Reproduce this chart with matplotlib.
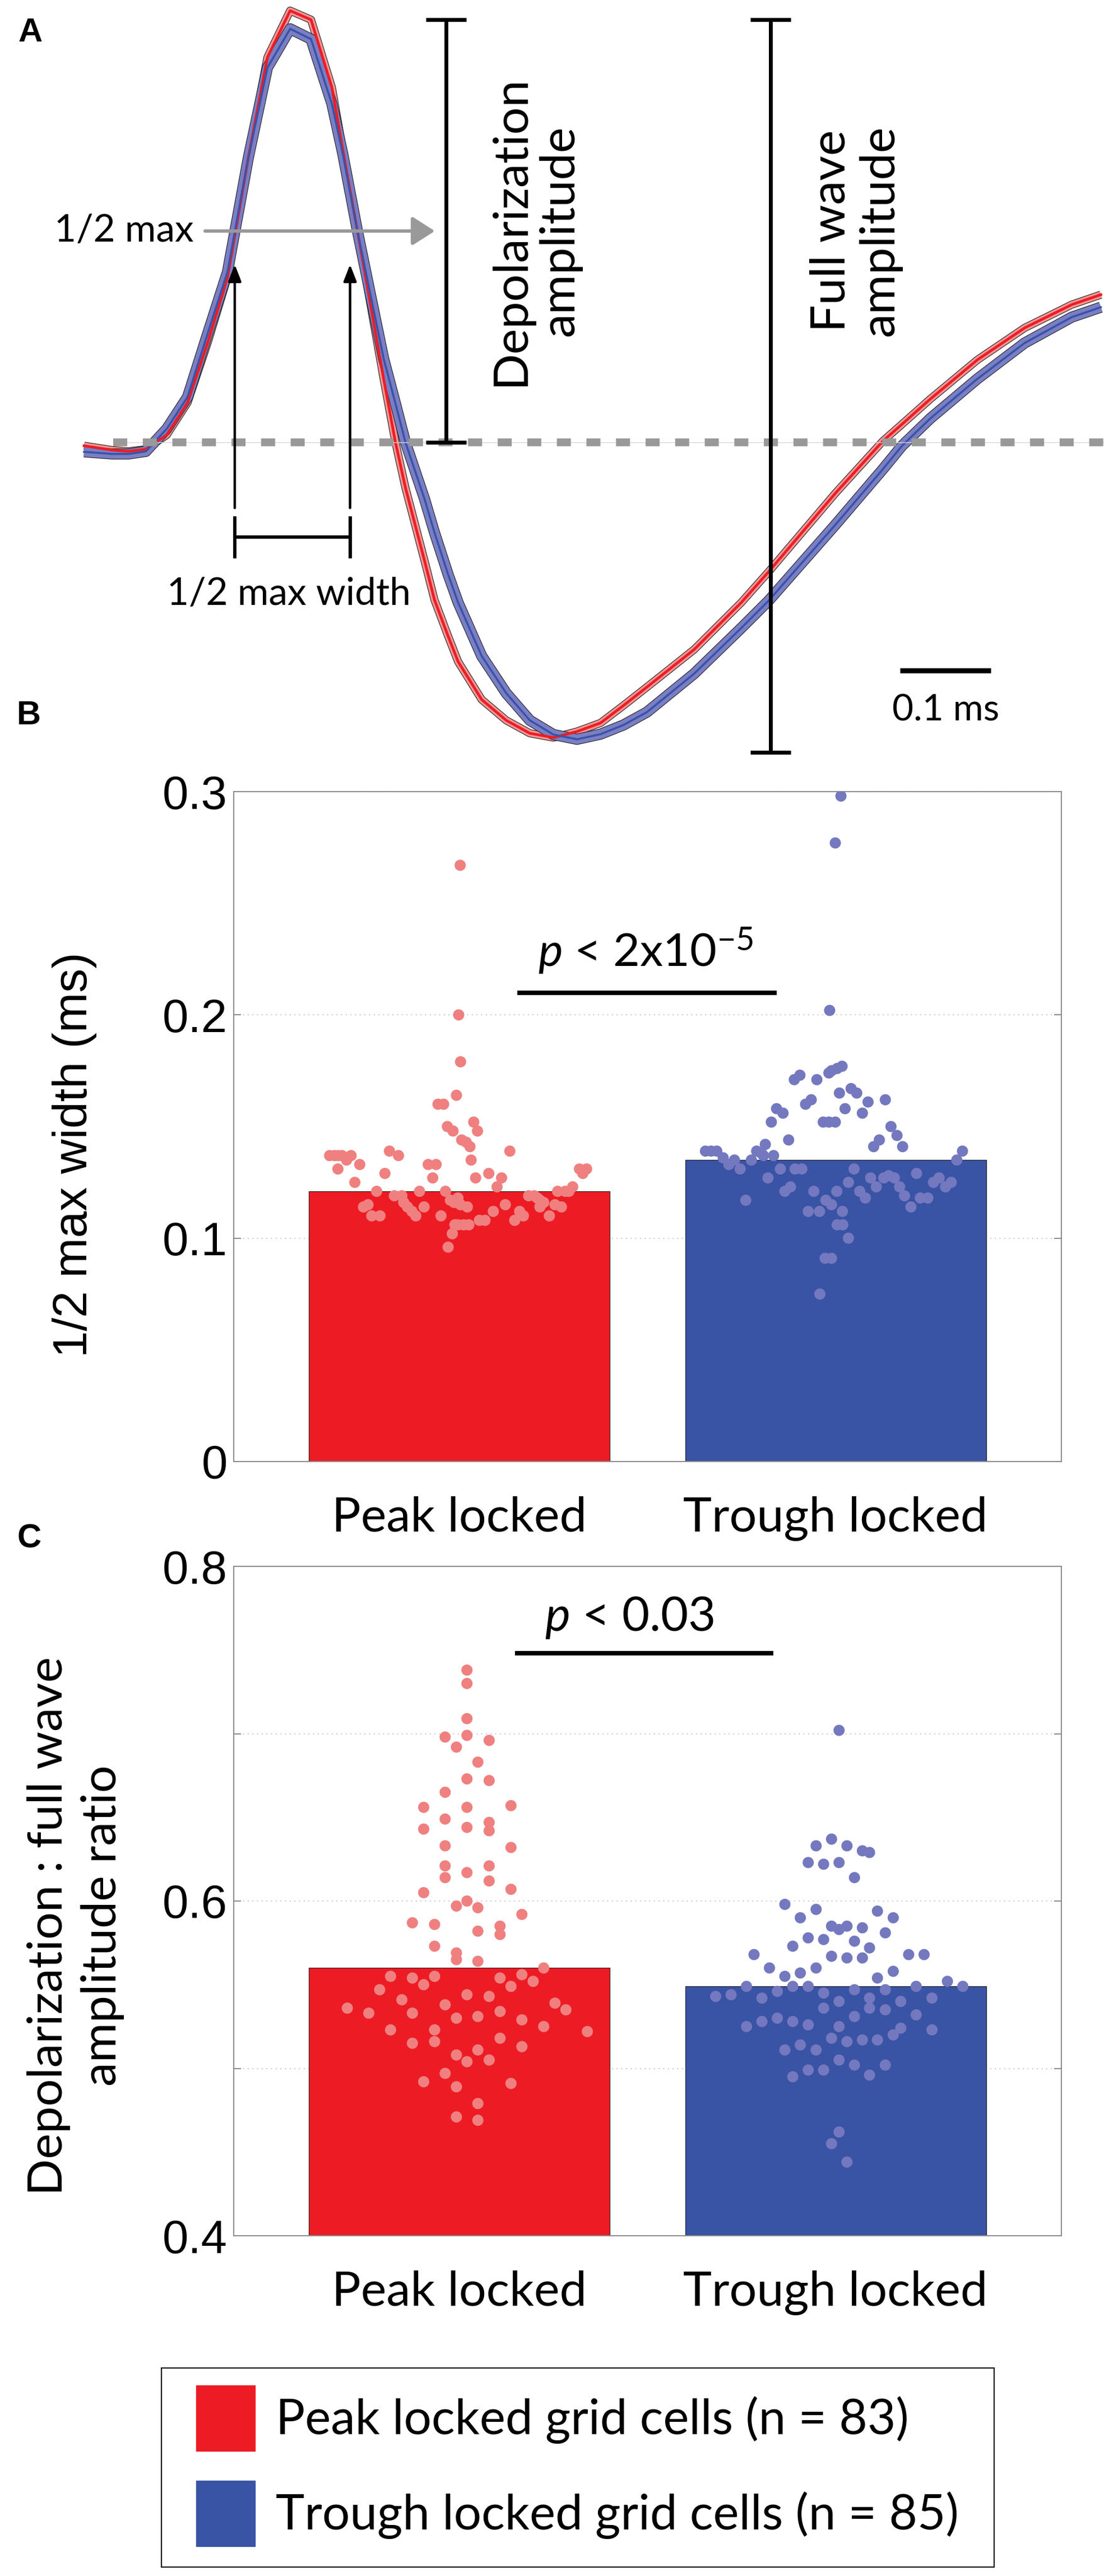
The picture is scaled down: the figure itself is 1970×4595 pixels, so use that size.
import numpy as np
import matplotlib
matplotlib.use('Agg')
import matplotlib.pyplot as plt
import matplotlib.patheffects as pe
from matplotlib.patches import Rectangle

plt.rcParams['mathtext.fontset'] = 'custom'
plt.rcParams['mathtext.rm'] = 'Lato'
plt.rcParams['mathtext.it'] = 'Lato:italic'

# ---------------- data ----------------
# A: mean waveforms (time in ms, amplitude normalised to the peak)
wave_t = [0.000, 0.031, 0.049, 0.068, 0.091, 0.114, 0.136, 0.158, 0.181, 0.202,
          0.227, 0.250, 0.273, 0.285, 0.301, 0.315, 0.330, 0.343, 0.354, 0.375,
          0.386, 0.401, 0.412, 0.438, 0.465, 0.491, 0.517, 0.543, 0.569, 0.594,
          0.620, 0.672, 0.724, 0.754, 0.828, 0.880, 0.901, 0.932, 0.984, 1.036,
          1.088, 1.120]
peak_wave = [-0.008, -0.018, -0.021, -0.016, 0.017, 0.092, 0.230, 0.382, 0.660, 0.892,
             1.000, 0.979, 0.822, 0.677, 0.491, 0.326, 0.147, 0.000, -0.105, -0.274,
             -0.365, -0.449, -0.508, -0.596, -0.644, -0.674, -0.684, -0.670, -0.650, -0.610,
             -0.567, -0.480, -0.371, -0.300, -0.117, 0.003, 0.042, 0.100, 0.191, 0.265,
             0.319, 0.342]
trough_wave = [-0.022, -0.027, -0.027, -0.021, 0.031, 0.105, 0.251, 0.395, 0.660, 0.868,
               0.958, 0.934, 0.784, 0.668, 0.491, 0.347, 0.194, 0.090, 0.000, -0.131,
               -0.209, -0.306, -0.371, -0.495, -0.581, -0.644, -0.677, -0.688, -0.676, -0.655,
               -0.625, -0.536, -0.430, -0.367, -0.190, -0.062, -0.008, 0.055, 0.147, 0.230,
               0.290, 0.313]

groups = ['Peak locked', 'Trough locked']
legend_names = ['Peak locked grid cells', 'Trough locked grid cells']

# B: 1/2 max width (ms)
width_means = [0.121, 0.135]
pk_width_x = [0.002, -0.002, 0.003, -0.008, -0.057, -0.042, -0.032, -0.017, 0.038, 0.048,
              0.006, 0.018, 0.028, 0.031, 0.134, -0.345, -0.332, -0.322, -0.312, -0.300,
              -0.288, -0.323, -0.265, -0.278, -0.186, -0.162, -0.198, -0.083, -0.062, -0.071,
              0.043, 0.078, 0.112, 0.100, 0.319, 0.338, 0.328, 0.301, 0.291, 0.281,
              0.261, -0.220, -0.106, -0.037, -0.173, -0.153, -0.255, -0.243, -0.233, -0.211,
              -0.148, -0.138, -0.126, -0.116, -0.094, -0.049, -0.024, -0.014, -0.004, 0.003,
              0.021, -0.012, -0.004, 0.011, 0.025, -0.019, -0.030, 0.053, 0.068, 0.090,
              0.122, 0.147, 0.160, 0.170, 0.184, 0.199, 0.207, 0.214, 0.224, 0.214,
              0.239, 0.254, 0.271]
pk_width = [0.267, 0.200, 0.179, 0.164, 0.160, 0.160, 0.150, 0.148, 0.152, 0.148,
            0.144, 0.143, 0.141, 0.135, 0.139, 0.137, 0.137, 0.137, 0.137, 0.135,
            0.137, 0.131, 0.133, 0.125, 0.139, 0.137, 0.129, 0.133, 0.133, 0.127,
            0.127, 0.129, 0.127, 0.123, 0.131, 0.131, 0.129, 0.123, 0.121, 0.121,
            0.121, 0.121, 0.121, 0.121, 0.119, 0.119, 0.114, 0.115, 0.110, 0.110,
            0.116, 0.114, 0.112, 0.110, 0.114, 0.110, 0.117, 0.116, 0.118, 0.115,
            0.114, 0.106, 0.106, 0.106, 0.106, 0.102, 0.096, 0.108, 0.108, 0.112,
            0.115, 0.108, 0.112, 0.110, 0.119, 0.119, 0.118, 0.117, 0.116, 0.114,
            0.110, 0.115, 0.114]
tr_width_x = [0.017, 0.004, -0.011, -0.018, -0.095, -0.110, -0.050, 0.041, 0.056, 0.010,
              0.132, -0.065, -0.080, 0.086, 0.071, 0.025, -0.157, -0.140, -0.171, -0.033,
              -0.018, -0.001, 0.147, 0.163, 0.178, -0.125, 0.116, 0.101, 0.337, 0.322,
              -0.346, -0.331, -0.316, -0.299, -0.284, -0.269, -0.254, -0.224, -0.210, -0.197,
              -0.187, -0.192, -0.165, -0.147, -0.108, -0.090, 0.049, -0.180, -0.120, -0.135,
              -0.058, 0.003, 0.034, 0.093, 0.108, 0.128, 0.141, 0.156, 0.170, 0.183,
              0.200, 0.064, 0.079, 0.215, 0.225, 0.245, 0.260, 0.275, 0.292, 0.307,
              -0.239, -0.073, -0.043, -0.026, -0.011, 0.018, 0.004, 0.019, 0.034, -0.028,
              -0.011, -0.042, 0.014, -0.001, -0.016]
tr_width = [0.177, 0.176, 0.175, 0.174, 0.173, 0.171, 0.171, 0.167, 0.165, 0.165,
            0.162, 0.162, 0.160, 0.161, 0.156, 0.158, 0.158, 0.156, 0.152, 0.152,
            0.152, 0.152, 0.150, 0.146, 0.141, 0.144, 0.144, 0.141, 0.139, 0.135,
            0.139, 0.139, 0.139, 0.136, 0.133, 0.135, 0.131, 0.135, 0.139, 0.138,
            0.142, 0.137, 0.137, 0.131, 0.131, 0.131, 0.131, 0.127, 0.123, 0.121,
            0.121, 0.121, 0.125, 0.127, 0.123, 0.127, 0.128, 0.127, 0.123, 0.119,
            0.114, 0.121, 0.118, 0.129, 0.118, 0.118, 0.125, 0.127, 0.123, 0.125,
            0.117, 0.112, 0.112, 0.117, 0.115, 0.112, 0.106, 0.106, 0.100, 0.091,
            0.091, 0.075, 0.298, 0.277, 0.202]

# C: depolarization : full wave amplitude ratio
ratio_means = [0.560, 0.549]
pk_ratio_x = [0.020, 0.020, 0.020, -0.038, 0.020, 0.079, -0.008, 0.049, 0.020, 0.079,
              -0.038, -0.095, 0.020, 0.137, -0.038, -0.095, 0.020, 0.079, 0.079, -0.038,
              0.137, -0.038, -0.038, 0.020, 0.079, 0.079, -0.095, 0.137, 0.020, -0.008,
              0.049, 0.166, -0.125, -0.066, 0.049, 0.108, 0.108, -0.066, -0.008, -0.008,
              0.049, 0.224, -0.183, -0.125, -0.095, -0.066, 0.108, 0.137, 0.166, 0.196,
              -0.212, -0.153, 0.020, 0.079, -0.298, -0.241, -0.125, -0.038, -0.008, 0.049,
              0.108, 0.166, 0.254, 0.283, -0.183, -0.066, 0.224, 0.340, -0.125, -0.066,
              0.108, 0.166, 0.049, -0.008, 0.020, 0.079, -0.038, -0.095, -0.008, 0.137,
              0.049, -0.008, 0.049]
pk_ratio = [0.738, 0.730, 0.709, 0.698, 0.699, 0.696, 0.692, 0.683, 0.673, 0.672,
            0.665, 0.656, 0.656, 0.657, 0.649, 0.643, 0.644, 0.647, 0.642, 0.633,
            0.632, 0.621, 0.614, 0.617, 0.621, 0.612, 0.605, 0.607, 0.600, 0.597,
            0.596, 0.592, 0.587, 0.586, 0.582, 0.585, 0.580, 0.573, 0.569, 0.565,
            0.564, 0.560, 0.555, 0.554, 0.550, 0.555, 0.554, 0.549, 0.556, 0.552,
            0.547, 0.541, 0.544, 0.543, 0.536, 0.533, 0.533, 0.538, 0.530, 0.531,
            0.534, 0.529, 0.539, 0.535, 0.523, 0.523, 0.525, 0.522, 0.515, 0.516,
            0.518, 0.513, 0.511, 0.508, 0.504, 0.505, 0.497, 0.492, 0.489, 0.491,
            0.479, 0.471, 0.469]
tr_ratio_x = [0.009, -0.011, -0.052, 0.030, 0.071, 0.090, -0.073, -0.032, 0.009, 0.050,
              -0.135, -0.052, -0.094, 0.111, 0.153, -0.011, 0.009, 0.030, 0.071, 0.132,
              -0.073, -0.032, 0.050, -0.114, 0.090, -0.217, -0.011, 0.030, 0.071, 0.194,
              0.235, -0.176, -0.052, -0.094, -0.135, 0.153, 0.111, 0.297, 0.338, -0.237,
              -0.114, -0.073, 0.050, 0.132, 0.214, -0.319, -0.278, -0.196, -0.155, -0.032,
              0.009, 0.090, 0.090, 0.173, 0.256, -0.032, 0.132, -0.237, -0.196, -0.155,
              -0.114, -0.073, 0.050, 0.214, 0.009, 0.173, 0.153, 0.256, -0.011, 0.030,
              0.071, 0.111, -0.094, -0.135, -0.052, 0.009, 0.050, 0.132, -0.073, -0.032,
              -0.114, 0.090, 0.009, -0.011, 0.030]
tr_ratio = [0.702, 0.637, 0.633, 0.633, 0.630, 0.629, 0.623, 0.622, 0.623, 0.614,
            0.598, 0.595, 0.590, 0.594, 0.590, 0.585, 0.583, 0.585, 0.584, 0.581,
            0.578, 0.577, 0.576, 0.573, 0.572, 0.568, 0.567, 0.566, 0.566, 0.568,
            0.568, 0.560, 0.560, 0.557, 0.555, 0.558, 0.554, 0.552, 0.549, 0.549,
            0.549, 0.549, 0.547, 0.547, 0.549, 0.543, 0.544, 0.542, 0.546, 0.545,
            0.540, 0.542, 0.536, 0.540, 0.542, 0.536, 0.535, 0.525, 0.528, 0.530,
            0.528, 0.526, 0.531, 0.532, 0.525, 0.524, 0.520, 0.523, 0.518, 0.516,
            0.517, 0.517, 0.514, 0.511, 0.511, 0.505, 0.502, 0.502, 0.499, 0.499,
            0.495, 0.496, 0.462, 0.455, 0.444]

# ---------------- style ----------------
RED, BLUE = '#ED1C24', '#3953A5'
RED_DOT, BLUE_DOT = '#F08080', '#7478BE'
MYRIAD = 'Lato'          # stand-in for Myriad
HELV = 'Liberation Sans'

W, H = 1970.0, 4595.0
fig = plt.figure(figsize=(W / 100, H / 100), dpi=100)
renderer = fig.canvas.get_renderer()


def fig_box(x0, y0, x1, y1):
    # box given in pixels of the original figure -> figure fraction
    return [x0 / W, 1 - y1 / H, (x1 - x0) / W, (y1 - y0) / H]


def fit(s, target_px, family, **kw):
    # font size (pt) that makes the string about target_px wide
    probe = fig.text(0, 0, s, fontsize=40, family=family, **kw)
    w = probe.get_window_extent(renderer).width
    probe.remove()
    return 40 * target_px / w


# ---------------- A: waveforms ----------------
ax = fig.add_axes(fig_box(0, 0, 1970, 1400))
ax.set_xlim(-0.0926, 1.1235)
ax.set_ylim(-0.7935, 1.0247)
ax.axis('off')

# mean +- sem drawn as a wide outlined band with the mean on top
for vals, line_c, fill_c, band_w, core_w in [
        (peak_wave, RED, '#F39494', 8.6, 3.4),
        (trough_wave, BLUE, '#7A7EC4', 12.5, 2.6)]:
    ax.plot(wave_t, vals, color=fill_c, lw=band_w, solid_joinstyle='round',
            solid_capstyle='butt', zorder=2,
            path_effects=[pe.Stroke(linewidth=band_w + 1.6, foreground='#202020'),
                          pe.Normal()])
    ax.plot(wave_t, vals, color=line_c, lw=core_w, solid_joinstyle='round', zorder=3)

# baseline
ax.plot([0.032, 1.1235], [0, 0], color='#d6d6d6', lw=1.0, zorder=4)
ax.plot([0.032, 1.1235], [0, 0], color='#999999', lw=10, dashes=(1.8, 2.0),
        solid_capstyle='butt', dash_capstyle='butt', zorder=4)

dep_top = (max(peak_wave) + max(trough_wave)) / 2
half = dep_top / 2
wave_bottom = min(trough_wave) - 0.03
cap = 0.0222
for xb, y0, y1 in [(0.399, 0, dep_top), (0.756, wave_bottom, dep_top)]:
    ax.plot([xb, xb], [y0, y1], color='k', lw=5, zorder=5)
    ax.plot([xb - cap, xb + cap], [y0, y0], color='k', lw=5, zorder=5, solid_capstyle='butt')
    ax.plot([xb - cap, xb + cap], [y1, y1], color='k', lw=5, zorder=5, solid_capstyle='butt')

ax.annotate('', xy=(0.3864, half), xytext=(0.1333, half),
            arrowprops=dict(arrowstyle='-|>,head_length=0.55,head_width=0.35',
                            mutation_scale=45, color='#999999', lw=4.3,
                            shrinkA=0, shrinkB=0), zorder=6)

for xa in [0.166, 0.293]:
    ax.annotate('', xy=(xa, 0.412), xytext=(xa, -0.152),
                arrowprops=dict(arrowstyle='-|>,head_length=0.9,head_width=0.35',
                                mutation_scale=20, color='k', lw=3.2,
                                shrinkA=0, shrinkB=0), zorder=6)
    ax.plot([xa, xa], [-0.175, -0.265], color='k', lw=4.3, zorder=6)
ax.plot([0.166, 0.293], [-0.219, -0.219], color='k', lw=4.3, zorder=6)

fs_small = fit('1/2 max width', 435, MYRIAD)
ax.text(0.121, half, '1/2 max', ha='right', va='center', fontsize=fs_small, family=MYRIAD)
ax.text(0.2253, -0.352, '1/2 max width', ha='center', va='center', fontsize=fs_small,
        family=MYRIAD)

fs_amp = fit('Depolarization', 554, MYRIAD)
ax.text(0.497, half, 'Depolarization\namplitude', rotation=90, ha='center', va='center',
        multialignment='center', fontsize=fs_amp, family=MYRIAD, linespacing=1.15)
ax.text(0.850, half, 'Full wave\namplitude', rotation=90, ha='center', va='center',
        multialignment='center', fontsize=fs_amp, family=MYRIAD, linespacing=1.15)

ax.plot([0.899, 0.999], [-0.5286, -0.5286], color='k', lw=6.5, solid_capstyle='butt')
ax.text(0.949, -0.621, '0.1 ms', ha='center', va='center',
        fontsize=fit('0.1 ms', 191, MYRIAD), family=MYRIAD)

# ---------------- B and C: bars with cells ----------------
fs_xt = fit('Trough locked', 543, MYRIAD)


def bar_panel(ax, means, cells, ylim, yticks, yticklabels):
    ax.bar([1, 2], means, width=0.8, color=[RED, BLUE], edgecolor='#222222',
           linewidth=0.8, zorder=2)
    for i, (offs, vals, dot_c) in enumerate(cells):
        ax.scatter(np.array(offs) + i + 1, vals, s=207, color=dot_c,
                   edgecolors='none', zorder=3)
    ax.set_xlim(0.4, 2.6)
    ax.set_ylim(*ylim)
    ax.set_yticks(yticks, yticklabels)
    ax.set_xticks([1, 2], groups)
    ax.yaxis.grid(True, linestyle=(0, (1, 4)), color='#b5b5b5', lw=1.2)
    ax.set_axisbelow(True)
    for sp in ax.spines.values():
        sp.set_color('#8a8a8a')
        sp.set_linewidth(1.4)
    ax.tick_params(axis='y', direction='in', length=9.4, width=1.4, color='#8a8a8a',
                   right=True, labelsize=60, pad=8, labelfontfamily=HELV)
    ax.tick_params(axis='x', length=0, pad=44, labelsize=fs_xt,
                   labelfontfamily=MYRIAD)


axB = fig.add_axes(fig_box(417, 1412, 1894, 2607))
bar_panel(axB, width_means,
          [(pk_width_x, pk_width, RED_DOT), (tr_width_x, tr_width, BLUE_DOT)],
          (0, 0.3), [0, 0.1, 0.2, 0.3], ['0', '0.1', '0.2', '0.3'])
axB.set_ylabel('1/2 max width (ms)', family=HELV, va='center',
               fontsize=fit('1/2 max width (ms)', 723, HELV))
axB.yaxis.set_label_coords(-0.1923, 0.4577)
axB.plot([1.153, 1.844], [0.210, 0.210], color='k', lw=5.8, solid_capstyle='butt')
p_b = r'$p$ < 2x10$^{-5}$'
axB.text(1.495, 0.2216, p_b, ha='center', va='baseline',
         fontsize=fit(p_b, 385, MYRIAD), family=MYRIAD)

axC = fig.add_axes(fig_box(417, 2794, 1894, 3988))
bar_panel(axC, ratio_means,
          [(pk_ratio_x, pk_ratio, RED_DOT), (tr_ratio_x, tr_ratio, BLUE_DOT)],
          (0.4, 0.8), [0.4, 0.5, 0.6, 0.7, 0.8], ['0.4', '', '0.6', '', '0.8'])
lab_c = 'Depolarization : full wave\namplitude ratio'
axC.set_ylabel(lab_c, family=MYRIAD, va='center', linespacing=1.3,
               fontsize=fit(lab_c, 961, MYRIAD))
axC.yaxis.set_label_coords(-0.1909, 0.4631)
axC.plot([1.147, 1.834], [0.748, 0.748], color='k', lw=5.8, solid_capstyle='butt')
p_c = r'$p$ < 0.03'
axC.text(1.452, 0.7615, p_c, ha='center', va='baseline',
         fontsize=fit(p_c, 303, MYRIAD), family=MYRIAD)

# ---------------- legend ----------------
axL = fig.add_axes(fig_box(288, 4224, 1774, 4579))
axL.set_xlim(288, 1774)
axL.set_ylim(4579, 4224)
axL.set_xticks([])
axL.set_yticks([])
for sp in axL.spines.values():
    sp.set_color('k')
    sp.set_linewidth(1.5)
fs_leg = fit('Trough locked grid cells (n = 85)', 1219, MYRIAD)
for name, vals, c, y0 in [(legend_names[0], pk_width, RED, 4255),
                          (legend_names[1], tr_width, BLUE, 4425)]:
    axL.add_patch(Rectangle((350, y0), 105, 117, color=c))
    axL.text(492, y0 + 62, f'{name} (n = {len(vals)})', va='center',
             fontsize=fs_leg, family=MYRIAD)

# panel letters
for letter, (x, y) in zip('ABC', [(54, 58), (52, 1277), (52, 2745)]):
    fig.text(x / W, 1 - y / H, letter, ha='center', va='center', fontsize=43,
             fontweight='bold', family=HELV)

fig.savefig('out.png', dpi=100)
